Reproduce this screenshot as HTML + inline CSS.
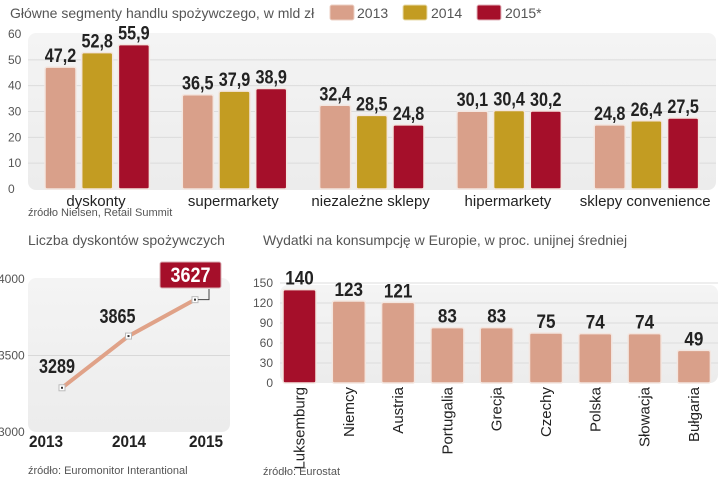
<!DOCTYPE html>
<html><head><meta charset="utf-8">
<style>
html,body{margin:0;padding:0;background:#fff;}
svg{display:block;font-family:"Liberation Sans",sans-serif;}
.v{font-family:"Liberation Sans",sans-serif;font-weight:bold;fill:#222;}
</style></head>
<body>
<svg id="c" width="720" height="481" viewBox="0 0 720 481">
<defs>
<linearGradient id="bg" x1="0" y1="0" x2="0" y2="1"><stop offset="0" stop-color="#f4f4f4"/><stop offset="1" stop-color="#ececec"/></linearGradient>
</defs>
<text x="10" y="18" font-size="14" fill="#555">Główne segmenty handlu spożywczego, w mld zł</text>
<g>
<rect x="330" y="5" width="24" height="15" rx="2" fill="#d9a08a" stroke="#ecd0c4"/>
<text x="357" y="18" font-size="14" fill="#555">2013</text>
<rect x="403" y="5" width="24" height="15" rx="2" fill="#c39c22" stroke="#e8dcae"/>
<text x="431" y="18" font-size="14" fill="#555">2014</text>
<rect x="477" y="5" width="24" height="15" rx="2" fill="#a50f2a" stroke="#e2b4bc"/>
<text x="505" y="18" font-size="14" fill="#555">2015*</text>
</g>
<rect x="28" y="33" width="688" height="157" rx="8" fill="url(#bg)"/>
<g id="top"></g>
<text x="28" y="216" font-size="11" fill="#555">źródło Nielsen, Retail Summit</text>

<text x="28" y="245" font-size="14" fill="#555">Liczba dyskontów spożywczych</text>
<rect x="28" y="278" width="202" height="154" rx="8" fill="url(#bg)"/>
<g id="line"></g>
<text x="28" y="474" font-size="11" fill="#555">źródło: Euromonitor Interantional</text>

<text x="263" y="245" font-size="14" fill="#555">Wydatki na konsumpcję w Europie, w proc. unijnej średniej</text>
<rect x="280" y="285" width="438" height="98" rx="8" fill="url(#bg)"/>
<g id="right"></g>
<text x="263" y="475" font-size="11" fill="#555">źródło: Eurostat</text>
</svg>
<script>
const topCategories=["dyskonty","supermarkety","niezależne sklepy","hipermarkety","sklepy convenience"];
const s2013=[47.2,36.5,32.4,30.1,24.8];
const s2014=[52.8,37.9,28.5,30.4,26.4];
const s2015=[55.9,38.9,24.8,30.2,27.5];
const topTicks=[0,10,20,30,40,50,60];

const lineYears=["2013","2014","2015"];
const lineValues=[3289,3627,3865];
const lineLabels=["3289","3865","3627"];
const lineTicks=[3000,3500,4000];

const countries=["Luksemburg","Niemcy","Austria","Portugalia","Grecja","Czechy","Polska","Słowacja","Bułgaria"];
const spending=[140,123,121,83,83,75,74,74,49];
const rightTicks=[0,30,60,90,120,150];

const NS="http://www.w3.org/2000/svg";
function mk(tag,attrs,parent,txt){const e=document.createElementNS(NS,tag);for(const k in attrs)e.setAttribute(k,attrs[k]);if(txt!==undefined)e.textContent=txt;parent.appendChild(e);return e;}
function val(x,y,str,parent,size,cw){
  const t=mk('text',{x:x,y:y,'text-anchor':'middle','font-size':size,class:'v',textLength:str.replace(',','').length*cw+(str.indexOf(',')>=0?3:0),lengthAdjust:'spacingAndGlyphs'},parent,str);
  return t;
}

const gT=document.getElementById('top');
const yT=v=>189-v*(155/60);
topTicks.forEach(t=>{
  if(t>0&&t<60){const l=mk('line',{x1:28,x2:716,y1:yT(t),y2:yT(t),stroke:'#dcdcdc','stroke-width':1},gT);
  
  }
  const tx=mk('text',{x:8,y:yT(t)+4,'font-size':12,fill:'#555'},gT,String(t));
  
  
});
const cols=['#d9a08a','#c39c22','#a50f2a'];
const series=[s2013,s2014,s2015];
topCategories.forEach((c,i)=>{
  const gx=45+i*137.3;
  series.forEach((s,j)=>{
    const x=gx+j*36.7, w=31;
    const r=mk('rect',{x:x,y:yT(s[i]),width:w,height:189-yT(s[i]),rx:2,fill:cols[j],stroke:'#f3e6e0','stroke-width':1.5},gT);
    
    
    const t=val(x+w/2,yT(s[i])-5,s[i].toFixed(1).replace('.',','),gT,19,9.5);
    
    
  });
  const cl=mk('text',{x:gx+51,y:206,'text-anchor':'middle','font-size':15,fill:'#222'},gT,c);
  
  
});

const gL=document.getElementById('line');
const yL=v=>432-(v-3000)*(153/1000);
const xL=i=>62+i*66.5;
const yearX=[46,129,206];
const labOff=[[-5,-15],[-11,-13]];
lineTicks.forEach(t=>{
  if(t==3500){const l=mk('line',{x1:28,x2:230,y1:yL(t),y2:yL(t),stroke:'#d8d8d8'},gL);
  
  }
  const tx=mk('text',{x:-2,y:yL(t)+4,'font-size':12,fill:'#555'},gL,String(t));
  
  
});
const pl=mk('polyline',{points:lineValues.map((v,i)=>xL(i)+','+yL(v)).join(' '),fill:'none',stroke:'#e0a288','stroke-width':4},gL);


lineValues.forEach((v,i)=>{
  const p=mk('rect',{x:xL(i)-3,y:yL(v)-3,width:6,height:6,fill:'#fff',stroke:'#bbb'},gL);
  
  
  mk('rect',{x:xL(i)-1,y:yL(v)-1,width:2,height:2,fill:'#333'},gL);
  const yl=mk('text',{x:yearX[i],y:447,'text-anchor':'middle','font-size':17,'font-weight':'bold',fill:'#222',textLength:34,lengthAdjust:'spacingAndGlyphs'},gL,lineYears[i]);
  
  
});
[0,1].forEach(i=>{
  const t=val(xL(i)+labOff[i][0],yL(lineValues[i])+labOff[i][1],lineLabels[i],gL,20,9);
  
  
});
const bx=mk('rect',{x:160,y:262,width:61,height:26,rx:2,fill:'#a50f2a',stroke:'#d9b0b6'},gL);


const bt=val(190.5,282,lineLabels[2],gL,21,10);
bt.setAttribute('style','fill:#fff');


mk('polyline',{points:(xL(2)+3)+','+yL(lineValues[2])+' 209,'+yL(lineValues[2])+' 209,289',fill:'none',stroke:'#444','stroke-width':1},gL);

const gR=document.getElementById('right');
const yR=v=>383-v*(100/150);
rightTicks.forEach(t=>{
  if(t>0){const l=mk('line',{x1:280,x2:718,y1:yR(t),y2:yR(t),stroke:'#dcdcdc'},gR);
  
  }
  const tx=mk('text',{x:273,y:yR(t)+4,'text-anchor':'end','font-size':12,fill:'#555'},gR,String(t));
  
  
});
countries.forEach((c,i)=>{
  const x=283+i*49.3,w=33;
  const r=mk('rect',{x:x,y:yR(spending[i]),width:w,height:383-yR(spending[i]),rx:2,fill:i==0?'#a50f2a':'#d9a08a',stroke:'#f3e6e0','stroke-width':1.5},gR);
  
  
  const t=val(x+w/2,yR(spending[i])-5,String(spending[i]),gR,19,9.5);
  
  
  const cl=mk('text',{x:0,y:0,'text-anchor':'end','font-size':15,fill:'#222',transform:'translate('+(x+w/2+5)+',387) rotate(-90)'},gR,c);
  
  
});
</script>
</body></html>
